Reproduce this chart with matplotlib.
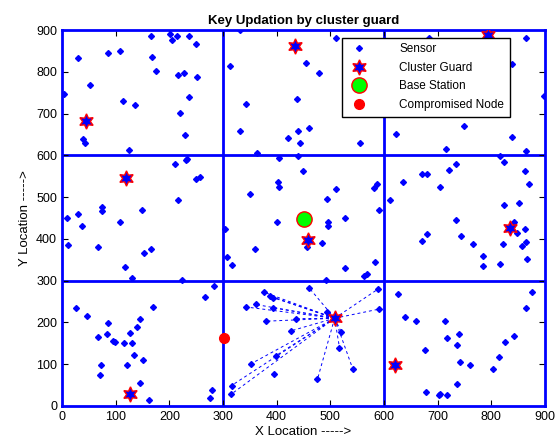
"""
Key updation by cluster guard - sensor field with 3x3 clusters
"""

import numpy as np
import matplotlib.pyplot as plt

plt.rcParams["font.family"] = ["Liberation Sans", "DejaVu Sans"]

# sensors that are not linked to the updating guard
sensor_x = [166, 201, 205, 215, 237, 249, 30, 86, 109, 167, 176, 217, 228, 251,
            53, 3, 113, 136, 236, 219, 40, 43, 230, 124, 231, 233,
            332, 510, 313, 455, 478, 438, 342, 332, 440, 461, 422, 443, 555,
            363, 405, 440,
            683, 864, 838, 898, 749, 622, 838, 715, 865, 816,
            824, 671, 681, 721, 734, 863, 871, 636, 705, 612, 823, 852, 734,
            842, 848, 863, 680, 670, 744, 765, 821, 865, 857, 784, 867, 784,
            817, 586, 582, 590, 584,
            449, 403, 405, 351, 511, 493, 401, 495, 495, 528, 303, 456, 484,
            359, 307, 317, 528, 569, 563, 492,
            211, 249, 257, 216, 74, 74, 149, 30, 9, 108, 37, 11, 67, 153, 165,
            117, 130, 224, 284,
            266, 26, 47, 170, 145, 86, 140, 67, 84, 126, 95, 99, 116, 130, 134,
            151, 72, 121, 70, 145, 163, 280, 275,
            395,
            626, 640, 659, 713, 717, 740, 736, 676, 742, 760, 736, 678, 702,
            705, 717, 803, 814, 825, 842, 865, 876]
sensor_y = [886, 891, 875, 886, 886, 867, 833, 846, 850, 835, 801, 793, 796, 788,
            769, 748, 730, 720, 739, 701, 640, 630, 649, 612, 589, 591,
            899, 880, 814, 822, 798, 735, 724, 659, 659, 665, 641, 630, 630,
            605, 594, 598,
            882, 882, 818, 743, 670, 651, 643, 614, 611, 599,
            585, 556, 556, 566, 580, 562, 531, 535, 525, 493, 480, 486, 446,
            440, 414, 424, 412, 396, 408, 388, 388, 393, 382, 359, 351, 335,
            340, 531, 521, 469, 345,
            562, 535, 525, 507, 519, 495, 440, 441, 431, 451, 424, 381, 390,
            375, 357, 337, 330, 317, 310, 302,
            580, 543, 549, 493, 476, 467, 469, 459, 451, 441, 432, 385, 380,
            367, 375, 333, 306, 302, 288,
            261, 235, 216, 238, 209, 199, 188, 165, 172, 174, 156, 152, 151,
            151, 122, 109, 97, 97, 75, 54, 14, 38, 20,
            77,
            267, 214, 203, 203, 162, 172, 145, 135, 106, 97, 53, 33, 26,
            29, 27, 88, 117, 153, 167, 235, 272]

# sensors of the cluster whose key is updated (dashed links to the guard)
linked_x = [377, 388, 394, 461, 589, 591, 343, 361, 394, 493, 380, 436, 427,
            520, 517, 398, 352, 542, 476, 316, 315]
linked_y = [272, 263, 259, 282, 280, 232, 237, 243, 235, 226, 203, 209, 180,
            178, 140, 120, 101, 88, 64, 49, 28]

guard_x = [44, 435, 793, 119, 459, 835, 126, 508, 620]
guard_y = [682, 862, 889, 546, 397, 427, 28, 210, 97]

base_x, base_y = [450], [448]
compromised_x, compromised_y = [302], [162]

active_guard = 7
cluster_edges = [300, 600]

fig = plt.figure(figsize=(5.57, 4.46), dpi=100)
fig.patch.set_facecolor("white")
ax = fig.add_axes([0.1113, 0.0897, 0.8672, 0.843])

gx, gy = guard_x[active_guard], guard_y[active_guard]
for x, y in zip(linked_x, linked_y):
    ax.plot([gx, x], [gy, y], color="blue", lw=0.7, dashes=(3, 3), zorder=2)

for e in cluster_edges:
    ax.axvline(e, color="blue", lw=2, zorder=1)
    ax.axhline(e, color="blue", lw=2, zorder=1)

ax.plot(np.r_[sensor_x, linked_x], np.r_[sensor_y, linked_y], "D", color="blue",
        ms=3, mec="blue", ls="none", label="Sensor", zorder=3)
ax.plot(guard_x, guard_y, marker=(6, 1, 0), ms=11, mfc="blue", mec="red",
        mew=1, ls="none", label="Cluster Guard", zorder=4)
ax.plot(base_x, base_y, "o", ms=11, mfc="#00ff00", mec="red", mew=1,
        ls="none", label="Base Station", zorder=4)
ax.plot(compromised_x, compromised_y, "o", ms=7, mfc="red", mec="red",
        ls="none", label="Compromised Node", zorder=4)

ax.set_xlim(0, 900)
ax.set_ylim(0, 900)
ax.set_xticks(range(0, 901, 100))
ax.set_yticks(range(0, 901, 100))
ax.tick_params(direction="in", top=True, right=True, labelsize=9, length=4)
for s in ax.spines.values():
    s.set_color("blue")
    s.set_linewidth(2)

ax.set_title("Key Updation by cluster guard", fontsize=9.5, fontweight="bold", pad=4)
ax.set_xlabel("X Location ----->", fontsize=9.5, labelpad=2)
ax.set_ylabel("Y Location ----->", fontsize=9.5, labelpad=4)

handles, labels = ax.get_legend_handles_labels()
leg = ax.legend(handles, labels, loc="upper right", bbox_to_anchor=(0.928, 0.98),
                fontsize=8.5, frameon=True, fancybox=False, edgecolor="black",
                framealpha=1, borderpad=0.5, handletextpad=2.4,
                labelspacing=0.55, borderaxespad=0)
leg.get_frame().set_linewidth(1)

plt.savefig("out.png", dpi=100)
